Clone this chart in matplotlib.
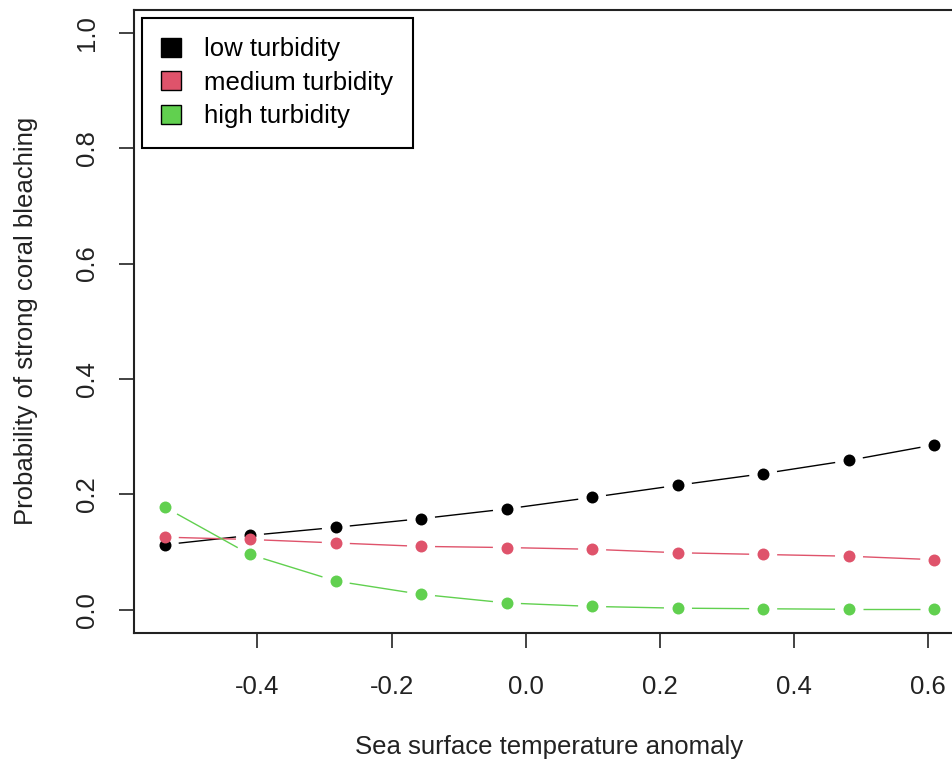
import numpy as np
import matplotlib.pyplot as plt
from matplotlib.patches import Patch

plt.rcParams['font.family'] = ['Liberation Sans', 'DejaVu Sans']

# sea surface temperature anomaly values (x)
sst = [-0.538, -0.411, -0.283, -0.156, -0.028, 0.099, 0.227, 0.354, 0.482, 0.609]

# predicted probability of strong bleaching per turbidity level
p_low = [0.113, 0.129, 0.143, 0.158, 0.175, 0.195, 0.216, 0.236, 0.259, 0.286]
p_med = [0.126, 0.122, 0.116, 0.110, 0.108, 0.105, 0.099, 0.096, 0.093, 0.087]
p_high = [0.178, 0.096, 0.050, 0.027, 0.012, 0.006, 0.003, 0.002, 0.001, 0.001]

labels = ["low turbidity", "medium turbidity", "high turbidity"]
colors = ["#000000", "#DF536B", "#61D04F"]

W, H = 953, 763
fig = plt.figure(figsize=(W / 100, H / 100), dpi=100)
ax = fig.add_axes([134 / W, (H - 633) / H, (965 - 134) / W, (633 - 9.5) / H])

span = sst[-1] - sst[0]
ax.set_xlim(sst[0] - 0.04 * span, sst[-1] + 0.04 * span)
ax.set_ylim(-0.04, 1.04)


# R type="b": line segments stop short of each point
def plot_b(x, y, col, gap=14):
    pts = ax.transData.transform(np.column_stack([x, y]))
    inv = ax.transData.inverted()
    for a, b in zip(pts[:-1], pts[1:]):
        d = b - a
        L = np.hypot(*d)
        if L <= 2 * gap:
            continue
        u = d / L
        seg = inv.transform(np.array([a + u * gap, b - u * gap]))
        ax.plot(seg[:, 0], seg[:, 1], color=col, lw=1.0, solid_capstyle='butt')
    ax.plot(x, y, 'o', color=col, markersize=8.6, markeredgewidth=0, zorder=3)


for ys, c in zip([p_low, p_med, p_high], colors):
    plot_b(sst, ys, c)

ax.set_xticks([-0.4, -0.2, 0.0, 0.2, 0.4, 0.6])
ax.set_xticklabels(["-0.4", "-0.2", "0.0", "0.2", "0.4", "0.6"])
ax.set_yticks([0.0, 0.2, 0.4, 0.6, 0.8, 1.0])
ax.set_yticklabels(["0.0", "0.2", "0.4", "0.6", "0.8", "1.0"], rotation=90, va='center')
ax.tick_params(length=11, width=1.2, labelsize=18.5, color='#222222', labelcolor='#222222')
ax.tick_params(axis='x', pad=19)
ax.tick_params(axis='y', pad=14)
for s in ax.spines.values():
    s.set_linewidth(1.5)
    s.set_color('#222222')

ax.set_xlabel("Sea surface temperature anomaly", fontsize=18.5, color='#222222', labelpad=26)
ax.set_ylabel("Probability of strong coral bleaching", fontsize=18.5, color='#222222', labelpad=27)

handles = [Patch(facecolor=c, edgecolor='black', linewidth=1) for c in colors]
leg = ax.legend(handles, labels, loc='upper left', bbox_to_anchor=(142 / W, 1 - 18 / H),
                bbox_transform=fig.transFigure, borderaxespad=0, fontsize=18.5,
                handlelength=0.78, handleheight=0.75, handletextpad=0.9,
                labelspacing=0.37, borderpad=0.75, fancybox=False, framealpha=1,
                edgecolor='black')
leg.get_frame().set_linewidth(1.5)

fig.savefig("out.png", dpi=100)
